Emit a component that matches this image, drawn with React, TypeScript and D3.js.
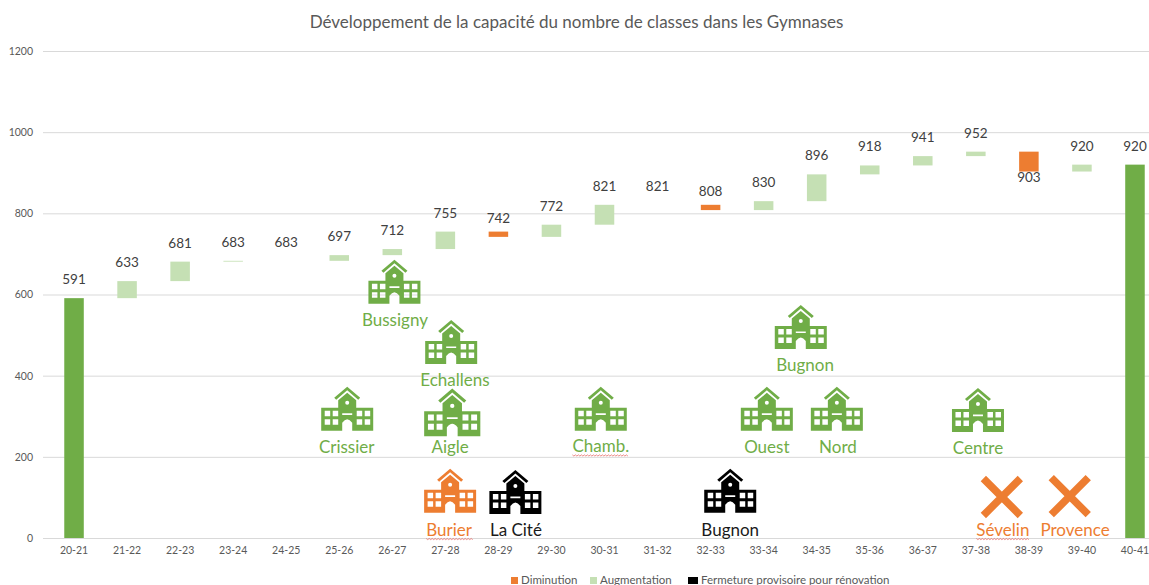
import { useEffect, useRef } from "react";
import * as d3 from "d3";

const categories = [
  "20-21", "21-22", "22-23", "23-24", "24-25", "25-26", "26-27",
  "27-28", "28-29", "29-30", "30-31", "31-32", "32-33", "33-34",
  "34-35", "35-36", "36-37", "37-38", "38-39", "39-40", "40-41",
];
const totals = [
  591, 633, 681, 683, 683, 697, 712, 755, 742, 772, 821,
  821, 808, 830, 896, 918, 941, 952, 903, 920, 920,
];
const yTicks = [0, 200, 400, 600, 800, 1000, 1200];

const legendLabels = ["Diminution", "Augmentation", "Fermeture provisoire pour rénovation"];

// annotations: x in category units, y in chart values
const schoolNames = [
  "Bussigny", "Echallens", "Crissier", "Aigle", "Chamb.", "Ouest", "Nord",
  "Centre", "Bugnon", "Burier", "La Cité", "Bugnon",
];
const schoolKinds = [
  "open", "open", "open", "open", "open", "open", "open",
  "open", "open", "drop", "closed", "closed",
];
const schoolCat = [6.04, 7.11, 5.15, 7.13, 9.93, 13.06, 14.38, 17.04, 13.7, 7.09, 8.32, 12.37];
const schoolVal = [577, 429, 264, 251, 264, 264, 264, 261, 466, 62, 59, 62];
const schoolLabelCat = [6.05, 7.18, 5.14, 7.09, 9.93, 13.06, 14.4, 17.04, 13.78, 7.07, 8.33, 12.37];
const schoolLabelVal = [522, 374, 209, 209, 211, 209, 209, 206, 411, 5, 5, 5];
const schoolScale = [1, 1, 1, 1.08, 1, 1, 1, 1, 1, 1, 1, 1];

const removedNames = ["Sévelin", "Provence"];
const removedCat = [17.49, 18.77];
const removedVal = [101, 103];
const removedLabelCat = [17.51, 18.87];
const removedLabelVal = [5, 5];

const flaggedWords = ["Chamb.", "Burier", "Sévelin"];

const GREEN = "#70ad47";
const LIGHT_GREEN = "#c5e0b4";
const ORANGE = "#ed7d31";
const FONT = "Lato, 'Noto Sans', sans-serif";

const KIND_COLORS: Record<string, string> = {
  open: GREEN,
  drop: ORANGE,
  closed: "#000000",
};

// building glyph, 52 wide and 44 tall, windows cut out with evenodd
function schoolPath() {
  const p = d3.path();
  const rect = (x: number, y: number, w: number, h: number) => p.rect(x, y, w, h);
  // roof chevron
  p.moveTo(26, 0);
  p.lineTo(39, 11);
  p.lineTo(37, 13);
  p.lineTo(26, 3.5);
  p.lineTo(15, 13);
  p.lineTo(13, 11);
  p.closePath();
  // tower and wings with door arch
  p.moveTo(26, 6);
  p.lineTo(35, 13.5);
  p.lineTo(35, 21);
  p.lineTo(52, 21);
  p.lineTo(52, 44);
  p.lineTo(31, 44);
  p.lineTo(31, 36);
  p.quadraticCurveTo(26, 29, 21, 36);
  p.lineTo(21, 44);
  p.lineTo(0, 44);
  p.lineTo(0, 21);
  p.lineTo(17, 21);
  p.lineTo(17, 13.5);
  p.closePath();
  // windows
  for (const x of [3.5, 11.5, 35.5, 43.5]) {
    rect(x, 24, 5.5, 5.5);
    rect(x, 32.5, 5.5, 5.5);
  }
  rect(21, 26.5, 10, 1.6);
  p.moveTo(28, 16);
  p.arc(26, 16, 2, 0, Math.PI * 2);
  return p.toString();
}

export default function App() {
  const svgRef = useRef<SVGSVGElement>(null);

  useEffect(() => {
    if (!svgRef.current) return;
    const svg = d3.select(svgRef.current);
    svg.selectAll("*").remove();

    const width = 1149;

    const x = d3
      .scaleBand<string>()
      .domain(categories)
      .range([47.5, 1161.5])
      .paddingInner(0.632)
      .paddingOuter(0.316);
    const xCat = d3.scaleLinear().domain([0, 20]).range([74, 1135]);
    const y = d3.scaleLinear().domain([0, 1200]).range([538, 51]);

    svg
      .append("text")
      .attr("x", 576.5)
      .attr("y", 28)
      .attr("text-anchor", "middle")
      .attr("fill", "#595959")
      .attr("font-size", "17px")
      .text("Développement de la capacité du nombre de classes dans les Gymnases");

    // Grid lines
    const yAxis = svg
      .append("g")
      .attr("transform", "translate(43,0)")
      .call(d3.axisLeft(y).tickValues(yTicks).tickSize(-(width - 43)).tickPadding(10).tickFormat(d3.format("d")));
    yAxis.select(".domain").remove();
    yAxis.selectAll("line").attr("stroke", "#d9d9d9");
    yAxis
      .selectAll("text")
      .attr("fill", "#595959")
      .attr("font-size", "10.5px")
      .attr("font-family", FONT);

    // X axis
    const xAxis = svg
      .append("g")
      .attr("transform", "translate(0,538)")
      .call(d3.axisBottom(x).tickSize(0).tickPadding(9));
    xAxis.select(".domain").remove();
    xAxis
      .selectAll("text")
      .attr("fill", "#595959")
      .attr("font-size", "10.5px")
      .attr("font-family", FONT);

    // Waterfall bars
    const last = categories.length - 1;
    categories.forEach((cat, i) => {
      const isTotal = i === 0 || i === last;
      const from = isTotal ? 0 : totals[i - 1];
      const to = totals[i];
      if (from === to) return;
      svg
        .append("rect")
        .attr("x", x(cat)!)
        .attr("width", x.bandwidth())
        .attr("y", y(Math.max(from, to)))
        .attr("height", Math.abs(y(from) - y(to)))
        .attr("fill", isTotal ? GREEN : to > from ? LIGHT_GREEN : ORANGE);
    });

    // Value labels, 903 sits under its bar
    svg
      .append("g")
      .selectAll("text")
      .data(totals)
      .join("text")
      .attr("x", (_, i) => x(categories[i])! + x.bandwidth() / 2)
      .attr("y", (d, i) => y(d) + (i === 18 ? 10 : -14))
      .attr("text-anchor", "middle")
      .attr("fill", "#404040")
      .attr("font-size", "13.5px")
      .text((d) => d);

    // School icons
    const glyph = schoolPath();
    schoolNames.forEach((name, i) => {
      const s = schoolScale[i];
      const color = KIND_COLORS[schoolKinds[i]];
      svg
        .append("path")
        .attr("d", glyph)
        .attr("fill", color)
        .attr("fill-rule", "evenodd")
        .attr(
          "transform",
          `translate(${xCat(schoolCat[i]) - 26 * s},${y(schoolVal[i]) - 44 * s}) scale(${s})`
        );
      svg
        .append("text")
        .attr("class", "annotation")
        .attr("x", xCat(schoolLabelCat[i]))
        .attr("y", y(schoolLabelVal[i]))
        .attr("text-anchor", "middle")
        .attr("fill", schoolKinds[i] === "closed" ? "#1a1a1a" : color)
        .attr("font-size", "17px")
        .text(name);
    });

    // Sites removed from the plan
    removedNames.forEach((name, i) => {
      const cx = xCat(removedCat[i]);
      const cy = y(removedVal[i]);
      const r = 18.5;
      svg
        .append("path")
        .attr("d", `M${cx - r},${cy - r}L${cx + r},${cy + r}M${cx + r},${cy - r}L${cx - r},${cy + r}`)
        .attr("stroke", ORANGE)
        .attr("stroke-width", 7.5)
        .attr("fill", "none");
      svg
        .append("text")
        .attr("class", "annotation")
        .attr("x", xCat(removedLabelCat[i]))
        .attr("y", y(removedLabelVal[i]))
        .attr("text-anchor", "middle")
        .attr("fill", ORANGE)
        .attr("font-size", "17px")
        .text(name);
    });

    // Spell-check squiggles under flagged words
    svg.selectAll<SVGTextElement, unknown>("text.annotation").each(function () {
      if (!flaggedWords.includes(this.textContent ?? "")) return;
      const box = this.getBBox();
      const baseline = +this.getAttribute("y")! + 2.5;
      const pts = d3
        .range(box.x, box.x + box.width, 1.5)
        .map((px, k) => [px, baseline + (k % 2) * 1.2] as [number, number]);
      svg
        .append("path")
        .attr("d", d3.line()(pts))
        .attr("fill", "none")
        .attr("stroke", "#e8706c")
        .attr("stroke-width", 0.8);
    });

    // Legend
    const legendX = [511, 590, 688];
    const legendColors = [ORANGE, LIGHT_GREEN, "#000000"];
    const legendSizes = [7, 7, 10];
    legendLabels.forEach((label, i) => {
      svg
        .append("rect")
        .attr("x", legendX[i])
        .attr("y", 577)
        .attr("width", legendSizes[i])
        .attr("height", 7)
        .attr("fill", legendColors[i]);
      svg
        .append("text")
        .attr("x", legendX[i] + legendSizes[i] + 3)
        .attr("y", 584)
        .attr("fill", "#595959")
        .attr("font-size", "11.5px")
        .text(label);
    });
  }, []);

  return (
    <svg
      ref={svgRef}
      width={1149}
      height={585}
      fontFamily={FONT}
      style={{ position: "absolute", left: 0, top: 0, background: "#fff", display: "block" }}
    />
  );
}
